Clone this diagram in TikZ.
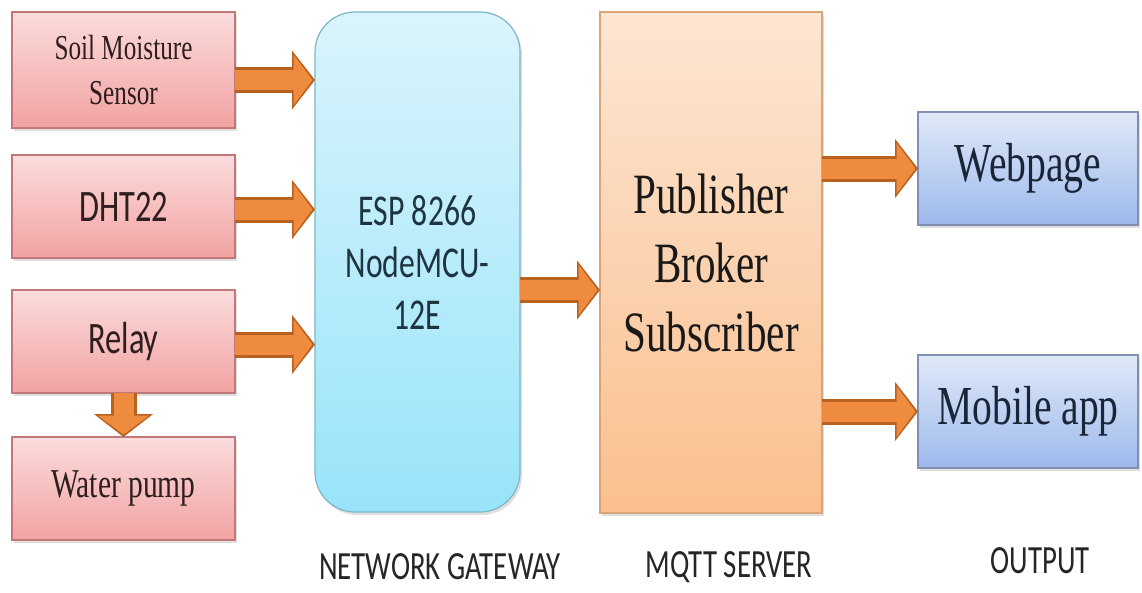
\documentclass[tikz,border=0pt]{standalone}
\usepackage{fontspec}
\setmainfont{Liberation Serif}
\newfontfamily\serifc[FakeStretch=0.72]{Liberation Serif}
\newfontfamily\calc[FakeStretch=0.72]{Carlito}
\usetikzlibrary{arrows.meta,shadows}
\definecolor{pinktop}{HTML}{FBDCDC}
\definecolor{pinkbot}{HTML}{F2A2A2}
\definecolor{pinkline}{HTML}{C27878}
\definecolor{cyantop}{HTML}{DAF4FC}
\definecolor{cyanbot}{HTML}{98E4FA}
\definecolor{cyanline}{HTML}{7CB6C8}
\definecolor{peachtop}{HTML}{FDE6D3}
\definecolor{peachbot}{HTML}{FABF8E}
\definecolor{peachline}{HTML}{D8A478}
\definecolor{bluetop}{HTML}{E0E9F8}
\definecolor{bluebot}{HTML}{9DB9EC}
\definecolor{blueline}{HTML}{8190B0}
\definecolor{arrowdark}{HTML}{B9621F}
\definecolor{arrowmid}{HTML}{EE8B3E}
\definecolor{txtdark}{HTML}{2E1E1E}
\definecolor{txtteal}{HTML}{1E3440}
\definecolor{txtnavy}{HTML}{1A2638}
\begin{document}
\begin{tikzpicture}[x=1pt,y=-1pt,
  box/.style={draw, line width=1.2pt, inner sep=0pt, outer sep=0pt, align=center,
    drop shadow={opacity=0.25, shadow xshift=2pt, shadow yshift=-3pt}},
  pinkbox/.style={box, draw=pinkline, top color=pinktop, bottom color=pinkbot,
    minimum width=223pt, text=txtdark},
  bluebox/.style={box, draw=blueline, top color=bluetop, bottom color=bluebot,
    minimum width=220pt, minimum height=113pt, text=txtnavy,
    font=\serifc\fontsize{55}{60}\selectfont},
  caption/.style={inner sep=0pt, font=\calc\fontsize{40}{44}\selectfont, text=black!85},
  fat/.style={line width=20pt, draw=arrowmid, -{Triangle[length=19pt,width=50pt]},
    shorten >=2.5pt,
    preaction={draw=arrowdark, line width=26pt, shorten >=0pt,
      -{Triangle[length=23pt,width=58pt]}}}
]
\useasboundingbox (0,0) rectangle (1142,592);
\fill[white] (0,0) rectangle (1142,592);

% left column
\node[pinkbox, minimum height=116pt, font=\serifc\fontsize{35}{45}\selectfont]
  (soil) at (123.5,70) {Soil Moisture\\Sensor};
\node[pinkbox, minimum height=103pt, font=\calc\fontsize{45}{50}\selectfont]
  (dht) at (123.5,206.5) {DHT22};
\node[pinkbox, minimum height=103pt, font=\calc\fontsize{45}{50}\selectfont]
  (relay) at (123.5,341.5) {Relay};
\node[pinkbox, minimum height=103pt, font=\serifc\fontsize{41}{46}\selectfont]
  (pump) at (123.5,488.5) {Water pump};

% gateway
\node[box, draw=cyanline, top color=cyantop, bottom color=cyanbot,
  rounded corners=40pt, minimum width=205pt, minimum height=500pt,
  font=\calc\fontsize{44}{52}\selectfont, text=txtteal]
  (esp) at (417.5,262) {ESP 8266\\NodeMCU-\\12E};

% MQTT server
\node[box, draw=peachline, top color=peachtop, bottom color=peachbot,
  minimum width=222pt, minimum height=501pt, text=black!90,
  font=\serifc\fontsize{57}{69}\selectfont]
  (mqtt) at (711,262.5) {Publisher\\Broker\\Subscriber};

% outputs
\node[bluebox] (web) at (1028,168.5) {Webpage};
\node[bluebox] (mob) at (1028,411.5) {Mobile app};

% captions
\node[caption] (capnet) at (440,567) {NETWORK GATEWAY};
\node[caption] (capmqtt) at (729,567) {MQTT SERVER};
\node[caption] (capout) at (1040,561) {OUTPUT};

% arrows
\draw[fat] ([yshift=-10pt]soil.east) -- ([yshift=-10pt]soil.east -| esp.west);
\draw[fat] ([yshift=-3pt]dht.east) -- ([yshift=-3pt]dht.east -| esp.west);
\draw[fat] ([yshift=-3pt]relay.east) -- ([yshift=-3pt]relay.east -| esp.west);
\draw[fat] (relay.south) -- (pump.north);
\draw[fat] ([yshift=-28pt]esp.east) -- ([yshift=-28pt]esp.east -| mqtt.west);
\draw[fat] (web.west -| mqtt.east) -- (web.west);
\draw[fat] (mob.west -| mqtt.east) -- (mob.west);
\end{tikzpicture}
\end{document}
